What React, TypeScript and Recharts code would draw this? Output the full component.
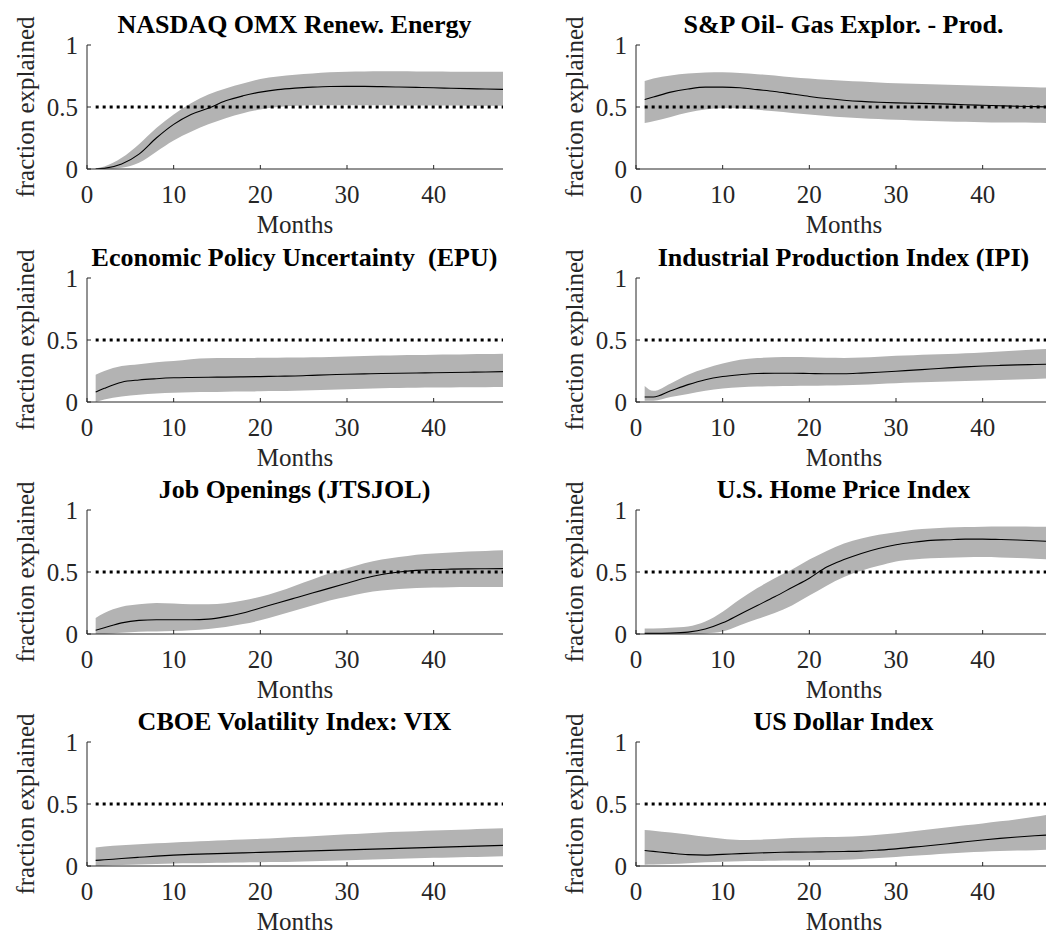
import React from "react";
import { ComposedChart, Area, Line, XAxis, YAxis, ReferenceLine } from "recharts";

// horizon (months) at which each series is sampled
const MONTHS = [1, 2, 4, 6, 8, 10, 12, 14, 16, 18, 20, 22, 24, 26, 28, 30, 32, 34, 36, 38, 40, 42, 44, 46, 48];

const X_TICKS = [0, 10, 20, 30, 40];
const Y_TICKS = [0, 0.5, 1];

// NASDAQ OMX Renewable Energy
const nasdaqMid = [0, 0.005, 0.04, 0.12, 0.25, 0.36, 0.44, 0.49, 0.55, 0.59, 0.62, 0.64, 0.652, 0.66, 0.665, 0.666, 0.666, 0.664, 0.661, 0.658, 0.655, 0.651, 0.648, 0.645, 0.642];
const nasdaqHi = [0.005, 0.02, 0.09, 0.2, 0.33, 0.44, 0.53, 0.6, 0.65, 0.69, 0.725, 0.745, 0.76, 0.77, 0.78, 0.785, 0.787, 0.788, 0.788, 0.787, 0.786, 0.785, 0.785, 0.785, 0.785];
const nasdaqLo = [0, 0, 0.01, 0.05, 0.14, 0.23, 0.3, 0.36, 0.41, 0.45, 0.48, 0.5, 0.51, 0.515, 0.515, 0.515, 0.514, 0.514, 0.513, 0.513, 0.512, 0.512, 0.511, 0.511, 0.51];

// S&P Oil & Gas Exploration & Production
const oilMid = [0.56, 0.58, 0.62, 0.645, 0.66, 0.66, 0.655, 0.64, 0.625, 0.605, 0.585, 0.568, 0.555, 0.545, 0.538, 0.533, 0.53, 0.527, 0.523, 0.518, 0.514, 0.51, 0.506, 0.503, 0.5];
const oilHi = [0.71, 0.73, 0.755, 0.77, 0.778, 0.78, 0.775, 0.765, 0.755, 0.74, 0.73, 0.72, 0.712, 0.705, 0.698, 0.692, 0.688, 0.684, 0.68, 0.676, 0.672, 0.668, 0.664, 0.66, 0.656];
const oilLo = [0.37, 0.385, 0.42, 0.455, 0.48, 0.49, 0.488, 0.478, 0.465, 0.452, 0.44, 0.428, 0.418, 0.41, 0.403, 0.397, 0.392, 0.388, 0.384, 0.381, 0.378, 0.376, 0.374, 0.372, 0.37];

// Economic Policy Uncertainty
const epuMid = [0.08, 0.11, 0.16, 0.178, 0.188, 0.195, 0.198, 0.2, 0.201, 0.203, 0.205, 0.208, 0.21, 0.215, 0.22, 0.224, 0.227, 0.23, 0.232, 0.234, 0.236, 0.238, 0.24, 0.242, 0.245];
const epuHi = [0.22, 0.25, 0.29, 0.305, 0.32, 0.33, 0.345, 0.352, 0.355, 0.355, 0.356, 0.357, 0.358, 0.36, 0.363, 0.367, 0.37, 0.374, 0.378, 0.38, 0.382, 0.384, 0.386, 0.388, 0.39];
const epuLo = [0, 0.02, 0.045, 0.058, 0.068, 0.074, 0.078, 0.08, 0.082, 0.084, 0.086, 0.088, 0.09, 0.094, 0.098, 0.102, 0.106, 0.11, 0.112, 0.114, 0.116, 0.117, 0.118, 0.119, 0.12];

// Industrial Production Index
const ipiMid = [0.04, 0.04, 0.09, 0.14, 0.18, 0.205, 0.22, 0.23, 0.232, 0.232, 0.23, 0.228, 0.228, 0.233, 0.24, 0.248, 0.257, 0.266, 0.275, 0.283, 0.29, 0.295, 0.299, 0.302, 0.305];
const ipiHi = [0.13, 0.09, 0.15, 0.22, 0.27, 0.31, 0.34, 0.355, 0.36, 0.362, 0.36, 0.356, 0.355, 0.358, 0.365, 0.372, 0.378, 0.383, 0.388, 0.394, 0.4, 0.408, 0.416, 0.423, 0.43];
const ipiLo = [0.01, 0.01, 0.04, 0.065, 0.09, 0.108, 0.118, 0.124, 0.127, 0.129, 0.131, 0.133, 0.136, 0.14, 0.146, 0.152, 0.157, 0.162, 0.166, 0.17, 0.174, 0.178, 0.182, 0.186, 0.19];

// Job Openings (JTSJOL)
const jobsMid = [0.03, 0.05, 0.09, 0.11, 0.115, 0.115, 0.115, 0.12, 0.14, 0.17, 0.21, 0.25, 0.29, 0.33, 0.37, 0.41, 0.45, 0.48, 0.5, 0.513, 0.52, 0.523, 0.525, 0.526, 0.527];
const jobsHi = [0.13, 0.17, 0.22, 0.24, 0.25, 0.245, 0.24, 0.24, 0.248, 0.27, 0.3, 0.34, 0.39, 0.44, 0.49, 0.53, 0.57, 0.6, 0.62, 0.64, 0.65, 0.658, 0.665, 0.67, 0.675];
const jobsLo = [0, 0, 0.01, 0.018, 0.02, 0.024, 0.03, 0.04, 0.056, 0.08, 0.11, 0.15, 0.19, 0.23, 0.27, 0.3, 0.33, 0.35, 0.362, 0.37, 0.375, 0.378, 0.38, 0.38, 0.38];

// U.S. Home Price Index
const homeMid = [0.005, 0.005, 0.007, 0.015, 0.04, 0.09, 0.16, 0.23, 0.3, 0.375, 0.45, 0.54, 0.6, 0.65, 0.69, 0.72, 0.74, 0.755, 0.76, 0.765, 0.765, 0.762, 0.758, 0.752, 0.746];
const homeHi = [0.045, 0.045, 0.05, 0.06, 0.1, 0.18, 0.28, 0.37, 0.45, 0.52, 0.6, 0.67, 0.73, 0.77, 0.8, 0.82, 0.84, 0.85, 0.858, 0.862, 0.865, 0.866, 0.866, 0.865, 0.864];
const homeLo = [0, 0, 0, 0, 0.005, 0.02, 0.07, 0.12, 0.17, 0.23, 0.31, 0.39, 0.46, 0.51, 0.55, 0.585, 0.6, 0.61, 0.615, 0.618, 0.62, 0.617, 0.612, 0.606, 0.6];

// CBOE Volatility Index
const vixMid = [0.045, 0.05, 0.06, 0.07, 0.08, 0.088, 0.094, 0.098, 0.102, 0.106, 0.11, 0.114, 0.118, 0.122, 0.126, 0.13, 0.134, 0.138, 0.142, 0.146, 0.15, 0.154, 0.158, 0.162, 0.166];
const vixHi = [0.15, 0.158, 0.168, 0.176, 0.183, 0.19, 0.196, 0.202, 0.208, 0.214, 0.22, 0.226, 0.233, 0.24, 0.248, 0.256, 0.263, 0.27, 0.276, 0.281, 0.286, 0.29, 0.295, 0.3, 0.305];
const vixLo = [0, 0.003, 0.008, 0.012, 0.016, 0.02, 0.022, 0.025, 0.027, 0.029, 0.031, 0.033, 0.035, 0.038, 0.042, 0.046, 0.05, 0.054, 0.058, 0.062, 0.066, 0.069, 0.072, 0.075, 0.078];

// US Dollar Index
const usdMid = [0.125, 0.118, 0.104, 0.092, 0.088, 0.094, 0.1, 0.105, 0.109, 0.112, 0.113, 0.115, 0.117, 0.12, 0.128, 0.138, 0.152, 0.165, 0.18, 0.196, 0.21, 0.223, 0.234, 0.244, 0.252];
const usdHi = [0.29, 0.285, 0.27, 0.255, 0.235, 0.22, 0.21, 0.212, 0.218, 0.225, 0.23, 0.234, 0.236, 0.242, 0.252, 0.264, 0.28, 0.296, 0.312, 0.328, 0.343, 0.36, 0.378, 0.398, 0.42];
const usdLo = [0.01, 0.012, 0.016, 0.022, 0.03, 0.035, 0.038, 0.04, 0.042, 0.044, 0.046, 0.048, 0.05, 0.056, 0.064, 0.072, 0.082, 0.09, 0.1, 0.108, 0.114, 0.12, 0.124, 0.128, 0.132];

const PANELS = [
  { title: "NASDAQ OMX Renew. Energy", mid: nasdaqMid, lo: nasdaqLo, hi: nasdaqHi },
  { title: "S&P Oil- Gas Explor. - Prod.", mid: oilMid, lo: oilLo, hi: oilHi },
  { title: "Economic Policy Uncertainty  (EPU)", mid: epuMid, lo: epuLo, hi: epuHi },
  { title: "Industrial Production Index (IPI)", mid: ipiMid, lo: ipiLo, hi: ipiHi },
  { title: "Job Openings (JTSJOL)", mid: jobsMid, lo: jobsLo, hi: jobsHi },
  { title: "U.S. Home Price Index", mid: homeMid, lo: homeLo, hi: homeHi },
  { title: "CBOE Volatility Index: VIX", mid: vixMid, lo: vixLo, hi: vixHi },
  { title: "US Dollar Index", mid: usdMid, lo: usdLo, hi: usdHi },
];

// layout of the 4x2 grid
const COL_AXIS_X = [86.5, 635.5];
const ROW_PLOT_TOP = [45, 278, 510, 742];
const PLOT_W = 416;
const PLOT_H = 124;
const AXIS_W = 80;
const TOP_SPACE = 45;
const BOTTOM_SPACE = 75;

const FONT = '"Liberation Serif", "Times New Roman", serif';
const INK = "#262626";
const BAND = "#b3b3b3";

const YTitle = (props: any) => {
  const vb = props.viewBox;
  const cx = vb.x + vb.width - 62;
  const cy = vb.y + vb.height / 2;
  return (
    <text
      x={cx}
      y={cy}
      transform={`rotate(-90 ${cx} ${cy})`}
      textAnchor="middle"
      dominantBaseline="central"
      style={{ fontFamily: FONT, fontSize: 25 }}
      fill={INK}
    >
      fraction explained
    </text>
  );
};

const XTitle = (props: any) => {
  const vb = props.viewBox;
  return (
    <text
      x={vb.x + vb.width / 2}
      y={vb.y + 64}
      textAnchor="middle"
      style={{ fontFamily: FONT, fontSize: 25 }}
      fill={INK}
    >
      Months
    </text>
  );
};

const Panel = ({ title, mid, lo, hi, left, top }: any) => {
  const rows = MONTHS.map((m, i) => ({ month: m, mid: mid[i], band: [lo[i], hi[i]] }));
  const tickStyle = { fontSize: 25, fill: INK, fontFamily: FONT };

  return (
    <div style={{ position: "absolute", left, top, width: AXIS_W + PLOT_W + 4, height: TOP_SPACE + PLOT_H + BOTTOM_SPACE }}>
      <div
        style={{
          position: "absolute",
          left: AXIS_W,
          width: PLOT_W,
          top: 12,
          textAlign: "center",
          fontFamily: FONT,
          fontWeight: "bold",
          fontSize: 26,
          lineHeight: "26px",
          whiteSpace: "pre",
          color: "#000",
        }}
      >
        {title}
      </div>
      <ComposedChart
        width={AXIS_W + PLOT_W + 4}
        height={TOP_SPACE + PLOT_H + BOTTOM_SPACE}
        data={rows}
        margin={{ top: TOP_SPACE, right: 4, bottom: 0, left: 0 }}
        style={{ fontFamily: FONT }}
      >
        <XAxis
          dataKey="month"
          type="number"
          domain={[0, 48]}
          ticks={X_TICKS}
          allowDataOverflow
          height={BOTTOM_SPACE}
          tickSize={-4}
          tickMargin={20}
          tick={tickStyle}
          axisLine={{ stroke: INK, strokeWidth: 1 }}
          tickLine={{ stroke: INK }}
          label={XTitle}
        />
        <YAxis
          type="number"
          domain={[0, 1]}
          ticks={Y_TICKS}
          allowDataOverflow
          width={AXIS_W}
          tickSize={-4}
          tickMargin={13}
          tick={tickStyle}
          axisLine={{ stroke: INK, strokeWidth: 1 }}
          tickLine={{ stroke: INK }}
          label={YTitle}
        />
        <Area
          dataKey="band"
          type="monotone"
          fill={BAND}
          fillOpacity={1}
          stroke="none"
          isAnimationActive={false}
        />
        <Line
          dataKey="mid"
          type="monotone"
          stroke="#000"
          strokeWidth={1.1}
          dot={false}
          isAnimationActive={false}
        />
        <ReferenceLine
          segment={[{ x: 1, y: 0.5 }, { x: 48, y: 0.5 }]}
          stroke="#000"
          strokeWidth={3}
          strokeDasharray="3 4"
        />
      </ComposedChart>
    </div>
  );
};

export default function App() {
  return (
    <div
      style={{
        position: "absolute",
        left: 0,
        top: 0,
        width: 1046,
        height: 934,
        overflow: "hidden",
        background: "#fff",
      }}
    >
      {PANELS.map((p, i) => (
        <Panel
          key={p.title}
          {...p}
          left={COL_AXIS_X[i % 2] - AXIS_W}
          top={ROW_PLOT_TOP[Math.floor(i / 2)] - TOP_SPACE}
        />
      ))}
    </div>
  );
}
